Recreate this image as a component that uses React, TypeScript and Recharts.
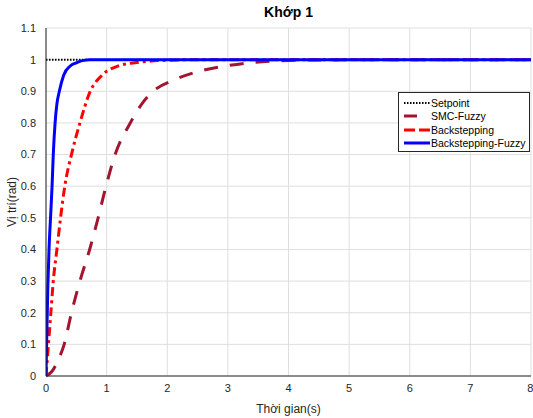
import { CartesianGrid, Line, LineChart, XAxis, YAxis } from 'recharts';

// time (s) / position (rad)
const setpoint = [
  { t: 0, y: 1 },
  { t: 8, y: 1 },
];

const smcFuzzy = [
  { t: 0, y: 0 },
  { t: 0.1, y: 0.015 },
  { t: 0.2, y: 0.05 },
  { t: 0.3, y: 0.1 },
  { t: 0.42, y: 0.2 },
  { t: 0.56, y: 0.3 },
  { t: 0.72, y: 0.4 },
  { t: 0.86, y: 0.5 },
  { t: 0.99, y: 0.6 },
  { t: 1.14, y: 0.7 },
  { t: 1.39, y: 0.8 },
  { t: 1.6, y: 0.865 },
  { t: 1.8, y: 0.905 },
  { t: 2.1, y: 0.935 },
  { t: 2.5, y: 0.962 },
  { t: 2.9, y: 0.978 },
  { t: 3.3, y: 0.989 },
  { t: 3.8, y: 0.996 },
  { t: 4.4, y: 0.999 },
  { t: 8, y: 1 },
];

const backstepping = [
  { t: 0, y: 0 },
  { t: 0.04, y: 0.1 },
  { t: 0.08, y: 0.2 },
  { t: 0.12, y: 0.3 },
  { t: 0.18, y: 0.4 },
  { t: 0.24, y: 0.5 },
  { t: 0.31, y: 0.6 },
  { t: 0.42, y: 0.7 },
  { t: 0.56, y: 0.8 },
  { t: 0.73, y: 0.9 },
  { t: 0.92, y: 0.95 },
  { t: 1.19, y: 0.98 },
  { t: 1.5, y: 0.991 },
  { t: 2, y: 0.998 },
  { t: 2.6, y: 1 },
  { t: 8, y: 1 },
];

const backsteppingFuzzy = [
  { t: 0, y: 0 },
  { t: 0.01, y: 0.1 },
  { t: 0.03, y: 0.28 },
  { t: 0.05, y: 0.4 },
  { t: 0.08, y: 0.52 },
  { t: 0.1, y: 0.6 },
  { t: 0.12, y: 0.7 },
  { t: 0.15, y: 0.8 },
  { t: 0.18, y: 0.86 },
  { t: 0.22, y: 0.9 },
  { t: 0.29, y: 0.95 },
  { t: 0.4, y: 0.98 },
  { t: 0.5, y: 0.99 },
  { t: 0.6, y: 0.997 },
  { t: 0.73, y: 1 },
  { t: 8, y: 1 },
];

const xTicks = [0, 1, 2, 3, 4, 5, 6, 7, 8];
const yTicks = [0, 0.1, 0.2, 0.3, 0.4, 0.5, 0.6, 0.7, 0.8, 0.9, 1, 1.1];

const legendItems = [
  { name: 'Setpoint', color: '#000000', dash: '1.5 1.5', w: 2, len: 26 },
  { name: 'SMC-Fuzzy', color: '#A2142F', dash: undefined, w: 3, len: 13 },
  { name: 'Backstepping', color: '#FF0000', dash: '11 4', w: 3, len: 26 },
  { name: 'Backstepping-Fuzzy', color: '#0000FF', dash: undefined, w: 3, len: 26 },
];

const font = 'Helvetica, "Liberation Sans", Arial, sans-serif';

function LegendBox() {
  return (
    <div
      style={{
        position: 'absolute',
        top: 92,
        left: 398,
        boxSizing: 'border-box',
        width: 132,
        height: 60,
        border: '1px solid #262626',
        background: '#fff',
        padding: '3px 0 0 4px',
        fontFamily: font,
        fontSize: 10.5,
        color: '#000',
      }}
    >
      {legendItems.map((item) => (
        <div key={item.name} style={{ display: 'flex', alignItems: 'center', height: 13.5, whiteSpace: 'nowrap' }}>
          <svg width={28} height={6}>
            <line
              x1={1}
              y1={3}
              x2={1 + item.len}
              y2={3}
              stroke={item.color}
              strokeWidth={item.w}
              strokeDasharray={item.dash}
            />
          </svg>
          <span>{item.name}</span>
        </div>
      ))}
    </div>
  );
}

export default function App() {
  return (
    <div style={{ position: 'absolute', left: 0, top: 0, width: 533, height: 418, background: '#fff' }}>
      <div
        style={{
          position: 'absolute',
          top: 4,
          left: 46,
          width: 485,
          textAlign: 'center',
          fontFamily: font,
          fontWeight: 'bold',
          fontSize: 14,
          color: '#000',
        }}
      >
        Khớp 1
      </div>
      <LineChart width={533} height={418} margin={{ top: 28, right: 2, bottom: 0, left: 0 }}>
        <CartesianGrid stroke="#dedede" strokeWidth={1} />
        <XAxis
          dataKey="t"
          type="number"
          domain={[0, 8]}
          ticks={xTicks}
          allowDataOverflow
          height={42}
          stroke="#262626"
          tickLine={false}
          tick={{ fontSize: 11, fill: '#262626', fontFamily: font }}
          tickMargin={2}
          label={{
            value: 'Thời gian(s)',
            position: 'insideBottom',
            offset: 5,
            style: { fontSize: 12, fill: '#262626', fontFamily: font },
          }}
        />
        <XAxis xAxisId="top" orientation="top" type="number" domain={[0, 8]} ticks={xTicks} height={0} stroke="#262626" tick={false} tickLine={false} />
        <YAxis
          type="number"
          domain={[0, 1.1]}
          ticks={yTicks}
          width={46}
          stroke="#262626"
          tickLine={false}
          tick={{ fontSize: 11, fill: '#262626', fontFamily: font }}
          tickMargin={4}
          tickFormatter={(v: number) => String(Math.round(v * 10) / 10)}
          label={{
            value: 'Vị trí(rad)',
            angle: -90,
            position: 'insideLeft',
            offset: 12,
            style: { fontSize: 12, fill: '#262626', fontFamily: font, textAnchor: 'middle' },
          }}
        />
        <YAxis yAxisId="right" orientation="right" type="number" domain={[0, 1.1]} width={0} stroke="#262626" tick={false} tickLine={false} />
        <Line data={setpoint} dataKey="y" name="Setpoint" type="linear" stroke="#000000" strokeWidth={2} strokeDasharray="1.5 1.5" dot={false} isAnimationActive={false} />
        <Line data={smcFuzzy} dataKey="y" name="SMC-Fuzzy" type="monotone" stroke="#A2142F" strokeWidth={3} strokeDasharray="14 12" dot={false} isAnimationActive={false} />
        <Line data={backstepping} dataKey="y" name="Backstepping" type="monotone" stroke="#FF0000" strokeWidth={3} strokeDasharray="9 4 3 4" dot={false} isAnimationActive={false} />
        <Line data={backsteppingFuzzy} dataKey="y" name="Backstepping-Fuzzy" type="monotone" stroke="#0000FF" strokeWidth={3} dot={false} isAnimationActive={false} />
      </LineChart>
      <LegendBox />
    </div>
  );
}
